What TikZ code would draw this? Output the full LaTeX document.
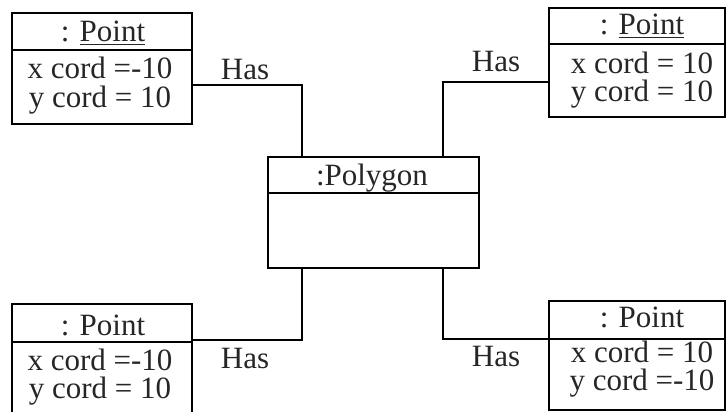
\documentclass[tikz,border=0pt]{standalone}
\usepackage{fontspec}
\setmainfont{Liberation Serif}
\begin{document}
\begin{tikzpicture}[x=1pt,y=-1pt,
  obj/.style={draw, line width=1.3pt, rectangle, inner sep=0pt},
  link/.style={draw, line width=1.3pt},
  txt/.style={font=\fontsize{31}{36}\selectfont, anchor=base, inner sep=0pt, text=black!85}]
\clip (0,0) rectangle (726,412);

% object boxes
\node[obj, minimum width=180pt, minimum height=111pt] (p1) at (102,68.5) {};
\node[obj, minimum width=176pt, minimum height=109pt] (p2) at (637,62.5) {};
\node[obj, minimum width=211pt, minimum height=111pt] (poly) at (373.5,212.5) {};
\node[obj, minimum width=180pt, minimum height=116pt] (p3) at (102,362) {};
\node[obj, minimum width=176pt, minimum height=109pt] (p4) at (637,355.5) {};

% header dividers
\draw[link] (p1.west |- 0,50) -- (p1.east |- 0,50);
\draw[link] (p2.west |- 0,44) -- (p2.east |- 0,44);
\draw[link] (poly.west |- 0,193) -- (poly.east |- 0,193);
\draw[link] (p3.west |- 0,342) -- (p3.east |- 0,342);
\draw[link] (p4.west |- 0,339) -- (p4.east |- 0,339);

% texts
\node[txt] (h1) at (103,42) {: \underline{Point}};
\node[txt] (x1) at (100,78) {x cord =-10};
\node[txt] (y1) at (100,107) {y cord = 10};

\node[txt] (h2) at (642,35) {: \underline{Point}};
\node[txt] (x2) at (642,74) {x cord = 10};
\node[txt] (y2) at (642,102) {y cord = 10};

\node[txt] (hp) at (372,185) {:Polygon};

\node[txt] (h3) at (103,335) {: Point};
\node[txt] (x3) at (100,370) {x cord =-10};
\node[txt] (y3) at (100,398) {y cord = 10};

\node[txt] (h4) at (642,327) {: Point};
\node[txt] (x4) at (642,362) {x cord = 10};
\node[txt] (y4) at (642,390) {y cord =-10};

% connectors
\draw[link] (p1.east |- 0,85) -| (poly.north -| 302,0);
\draw[link] (p2.west |- 0,82) -| (poly.north -| 443,0);
\draw[link] (p3.east |- 0,340) -| (poly.south -| 302,0);
\draw[link] (p4.west |- 0,339) -| (poly.south -| 443,0);

% association labels
\node[txt] (l1) at (245,80) {Has};
\node[txt] (l2) at (496,72) {Has};
\node[txt] (l3) at (245,368) {Has};
\node[txt] (l4) at (496,366) {Has};
\end{tikzpicture}
\end{document}
